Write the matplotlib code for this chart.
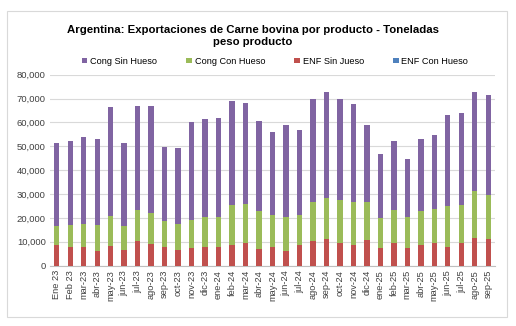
import matplotlib
matplotlib.use("Agg")
import matplotlib.pyplot as plt
from matplotlib.patches import Rectangle
import numpy as np

plt.rcParams["font.family"] = ["Liberation Sans", "DejaVu Sans"]

months = ["Ene 23", "Feb 23", "mar-23", "abr-23", "may-23", "jun-23", "jul-23",
          "ago-23", "sep-23", "oct-23", "nov-23", "dic-23", "ene-24", "feb-24",
          "mar-24", "abr-24", "may-24", "jun-24", "jul-24", "ago-24", "sep-24",
          "oct-24", "nov-24", "dic-24", "ene-25", "feb-25", "mar-25", "abr-25",
          "may-25", "jun-25", "jul-25", "ago-25", "sep-25"]

# toneladas peso producto por categoria
enf_sin_hueso = [8700, 7700, 7700, 6300, 8100, 6600, 10300, 9200, 8000, 6600,
                 7500, 8000, 8000, 8500, 9400, 6800, 8000, 6300, 8800, 10300,
                 11200, 9400, 8700, 10800, 7500, 9400, 7500, 8700, 9600, 7700,
                 9600, 11700, 11200]
enf_con_hueso = [0] * 33
cong_con_hueso = [7900, 9200, 9900, 10600, 12700, 10200, 13000, 12800, 10700, 10900,
                  11800, 12400, 12500, 16900, 16600, 16200, 13400, 14200, 12600, 16500,
                  17200, 18100, 18100, 15700, 12300, 13800, 12900, 14100, 14100, 17200,
                  15700, 19400, 18400]
cong_sin_hueso = [34700, 35300, 36500, 36300, 45500, 34700, 43600, 44900, 31200, 31800,
                  40900, 41100, 41200, 43700, 42000, 37500, 34600, 38400, 35300, 43200,
                  44400, 42200, 41100, 32400, 26800, 29200, 24200, 30300, 30900, 38100,
                  38500, 41700, 41900]

series = [
    ("ENF Sin Jueso", enf_sin_hueso, "#C0504D"),
    ("ENF Con Hueso", enf_con_hueso, "#4F81BD"),
    ("Cong Con Hueso", cong_con_hueso, "#9BBB59"),
    ("Cong Sin Hueso", cong_sin_hueso, "#8064A2"),
]

fig = plt.figure(figsize=(5.16, 3.26), dpi=100)
fig.patches.append(Rectangle((7 / 516, 9 / 326), 500 / 516, 306 / 326,
                             transform=fig.transFigure, fill=False,
                             edgecolor="#D9D9D9", linewidth=0.8))
ax = fig.add_axes([50 / 516, 0.185, 445 / 516, 0.586])

x = np.arange(len(months))
bottom = np.zeros(len(months))
handles = {}
for name, vals, color in series:
    vals = np.array(vals, dtype=float)
    handles[name] = ax.bar(x, vals, 0.4, bottom=bottom, color=color, label=name, zorder=3)
    bottom += vals

ax.set_xlim(-0.5, len(months) - 0.5)
ax.set_ylim(0, 80000)
ax.set_yticks(range(0, 80001, 10000))
ax.set_yticklabels([f"{v:,}" for v in range(0, 80001, 10000)], fontsize=6.8, color="#404040")
ax.set_xticks(x)
ax.set_xticklabels(months, rotation=90, fontsize=6.7, color="#404040")
ax.tick_params(length=0, pad=3)
ax.grid(axis="y", color="#D9D9D9", linewidth=0.8, zorder=0)
for side in ("top", "right", "left"):
    ax.spines[side].set_visible(False)
ax.spines["bottom"].set_color("#BFBFBF")

fig.text(0.49, 0.89, "Argentina: Exportaciones de Carne bovina por producto - Toneladas\npeso producto",
         ha="center", va="center", fontsize=8.2, fontweight="bold", linespacing=1.3)

order = ["Cong Sin Hueso", "Cong Con Hueso", "ENF Sin Jueso", "ENF Con Hueso"]
fig.legend([handles[n] for n in order], order, loc="center", ncol=4,
           bbox_to_anchor=(0.533, 0.812), frameon=False, fontsize=6.6,
           handlelength=0.6, handleheight=0.6, handletextpad=0.3, columnspacing=3.2)

fig.savefig("out.png", dpi=100)
